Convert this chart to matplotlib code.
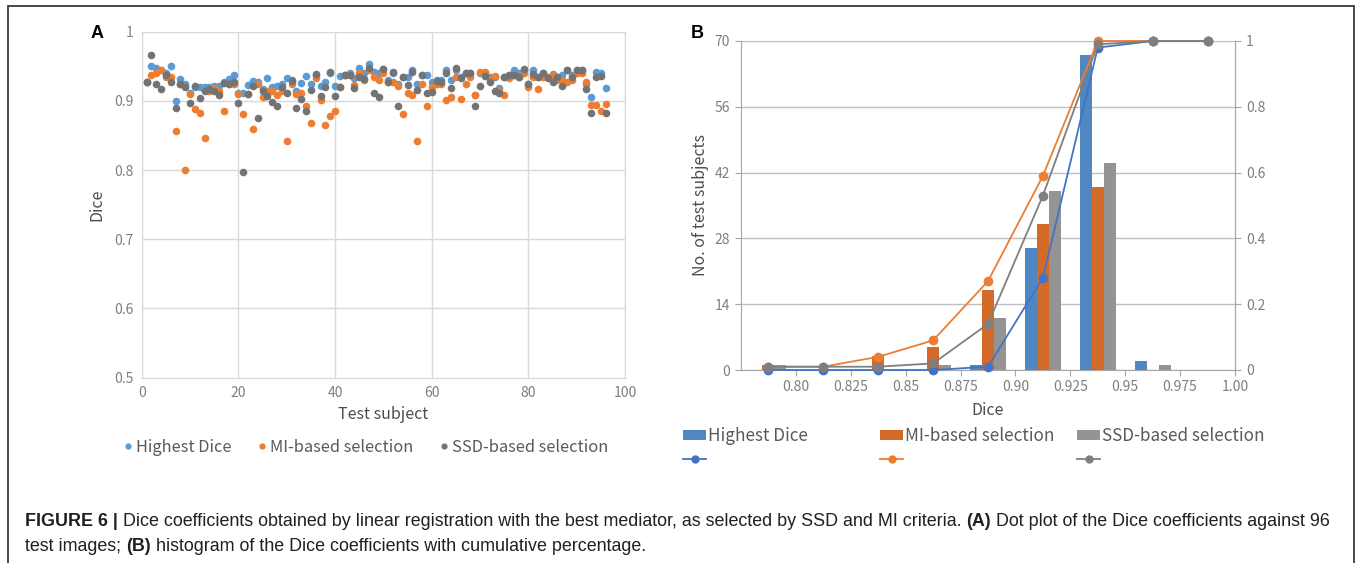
import matplotlib
matplotlib.use('Agg')
import matplotlib.pyplot as plt
from matplotlib.patches import Rectangle, Patch
from matplotlib.lines import Line2D

# ---------------- data ----------------
subjects = list(range(1, 97))
highest_dice = [0.927, 0.950, 0.947, 0.945, 0.940, 0.950, 0.900, 0.931, 0.925, 0.912,
                0.920, 0.920, 0.920, 0.920, 0.922, 0.922, 0.928, 0.932, 0.938, 0.912,
                0.911, 0.923, 0.929, 0.928, 0.917, 0.933, 0.920, 0.922, 0.925, 0.933,
                0.930, 0.915, 0.926, 0.936, 0.925, 0.938, 0.921, 0.927, 0.940, 0.921,
                0.936, 0.937, 0.940, 0.933, 0.947, 0.940, 0.953, 0.942, 0.940, 0.946,
                0.930, 0.940, 0.925, 0.935, 0.934, 0.945, 0.924, 0.937, 0.937, 0.928,
                0.930, 0.930, 0.944, 0.930, 0.945, 0.935, 0.940, 0.940, 0.908, 0.940,
                0.940, 0.935, 0.935, 0.919, 0.935, 0.938, 0.945, 0.940, 0.945, 0.925,
                0.944, 0.935, 0.940, 0.935, 0.939, 0.935, 0.937, 0.944, 0.938, 0.944,
                0.944, 0.925, 0.905, 0.942, 0.940, 0.918]
mi_based = [0.927, 0.938, 0.940, 0.944, 0.935, 0.935, 0.857, 0.925, 0.800, 0.910,
            0.888, 0.883, 0.847, 0.915, 0.918, 0.915, 0.885, 0.925, 0.925, 0.910,
            0.881, 0.910, 0.860, 0.925, 0.905, 0.915, 0.915, 0.908, 0.915, 0.842,
            0.925, 0.910, 0.911, 0.892, 0.868, 0.933, 0.902, 0.865, 0.878, 0.885,
            0.920, 0.937, 0.937, 0.923, 0.940, 0.930, 0.945, 0.934, 0.930, 0.940,
            0.927, 0.927, 0.921, 0.881, 0.912, 0.909, 0.842, 0.925, 0.892, 0.920,
            0.925, 0.925, 0.901, 0.905, 0.935, 0.903, 0.925, 0.934, 0.908, 0.942,
            0.942, 0.930, 0.936, 0.915, 0.909, 0.933, 0.937, 0.934, 0.940, 0.920,
            0.935, 0.917, 0.935, 0.935, 0.937, 0.930, 0.930, 0.927, 0.930, 0.940,
            0.940, 0.927, 0.894, 0.894, 0.885, 0.896]
ssd_based = [0.927, 0.967, 0.924, 0.917, 0.937, 0.928, 0.890, 0.925, 0.920, 0.897,
             0.922, 0.904, 0.914, 0.917, 0.915, 0.909, 0.926, 0.925, 0.927, 0.897,
             0.797, 0.910, 0.921, 0.875, 0.914, 0.907, 0.899, 0.892, 0.920, 0.911,
             0.929, 0.890, 0.903, 0.885, 0.916, 0.939, 0.907, 0.920, 0.942, 0.907,
             0.920, 0.937, 0.937, 0.919, 0.935, 0.931, 0.948, 0.911, 0.906, 0.946,
             0.927, 0.942, 0.892, 0.935, 0.923, 0.942, 0.916, 0.937, 0.911, 0.913,
             0.929, 0.927, 0.941, 0.919, 0.947, 0.933, 0.941, 0.941, 0.892, 0.922,
             0.936, 0.927, 0.915, 0.912, 0.934, 0.938, 0.938, 0.934, 0.946, 0.924,
             0.939, 0.934, 0.941, 0.933, 0.928, 0.935, 0.922, 0.944, 0.934, 0.944,
             0.944, 0.917, 0.883, 0.935, 0.936, 0.883]

bin_labels = ['0.80', '0.825', '0.85', '0.875', '0.90', '0.925', '0.95', '0.975', '1.00']
hist_highest = [0, 0, 0, 0, 1, 26, 67, 2, 0]
hist_mi = [1, 0, 3, 5, 17, 31, 39, 0, 0]
hist_ssd = [1, 0, 0, 1, 11, 38, 44, 1, 0]
cum_highest = [0.0, 0.0, 0.0, 0.0, 0.01, 0.28, 0.98, 1.0, 1.0]
cum_mi = [0.01, 0.01, 0.04, 0.09, 0.27, 0.59, 1.0, 1.0, 1.0]
cum_ssd = [0.01, 0.01, 0.01, 0.02, 0.14, 0.53, 0.99, 1.0, 1.0]

series_names = ['Highest Dice', 'MI-based selection', 'SSD-based selection']

# ---------------- style ----------------
CJK = ['Noto Sans CJK SC', 'DejaVu Sans']
plt.rcParams['font.family'] = CJK
W, H = 1360, 563
fig = plt.figure(figsize=(W / 100, H / 100), dpi=100)

sc_cols = ['#5B9BD5', '#ED7D31', '#737373']
bar_cols = ['#4E87C1', '#D36A28', '#949494']
line_cols = ['#4472C4', '#ED7D31', '#7F7F7F']
tick_col = '#7F7F7F'
lab_col = '#595959'

def fx(px):
    return px / W

def fy(py):
    return 1 - py / H

# outer frame
fig.add_artist(Rectangle((fx(8), fy(600)), fx(1354) - fx(8), fy(6) - fy(600),
                         transform=fig.transFigure, fill=False,
                         edgecolor='#3a3a3a', linewidth=1.3, clip_on=False))

# ---------------- panel A ----------------
axA = fig.add_axes([fx(141.7), fy(377.7), fx(625) - fx(141.7), fy(31.7) - fy(377.7)])
for vals, c in zip([highest_dice, mi_based, ssd_based], sc_cols):
    axA.scatter(subjects, vals, s=30, color=c, linewidths=0, zorder=3)
axA.set_xlim(0, 100)
axA.set_ylim(0.5, 1.0)
axA.set_xticks([0, 20, 40, 60, 80, 100])
axA.set_yticks([0.5, 0.6, 0.7, 0.8, 0.9, 1.0])
axA.set_yticklabels(['0.5', '0.6', '0.7', '0.8', '0.9', '1'])
axA.grid(True, color='#D9D9D9', linewidth=1.0, zorder=0)
axA.set_axisbelow(True)
for sp in axA.spines.values():
    sp.set_color('#D9D9D9')
axA.tick_params(length=0, colors=tick_col, labelsize=10, pad=6)
axA.set_xlabel('Test subject', color='#4D4D4D', fontsize=11.5, labelpad=4)
axA.set_ylabel('Dice', color='#4D4D4D', fontsize=11.5, labelpad=6)
fig.text(fx(97), fy(33), 'A', fontsize=13, fontweight='bold', ha='center', va='center',
         family=['Liberation Sans', 'DejaVu Sans'])

handlesA = [Line2D([], [], linestyle='none', marker='o', markersize=4.5,
                   markerfacecolor=c, markeredgewidth=0) for c in sc_cols]
legA = fig.legend(handlesA, series_names, loc='center', bbox_to_anchor=(fx(366), fy(447)),
                  ncol=3, frameon=False, fontsize=11.8, handlelength=0.5, handletextpad=0.25,
                  columnspacing=1.6, borderpad=0)
for t in legA.get_texts():
    t.set_color(lab_col)

# ---------------- panel B ----------------
axB = fig.add_axes([fx(741), fy(370), fx(1235) - fx(741), fy(41) - fy(370)])
centers = [k + 0.5 for k in range(len(bin_labels))]
bw = 0.218
for j, (h, c) in enumerate(zip([hist_highest, hist_mi, hist_ssd], bar_cols)):
    axB.bar([x + (j - 1) * bw for x in centers], h, width=bw, color=c, zorder=2)
axB.set_xlim(0, len(bin_labels))
axB.set_ylim(0, 70)
axB.set_yticks([0, 14, 28, 42, 56, 70])
axB.set_xticks([k + 1 for k in range(len(bin_labels))])
axB.set_xticklabels(bin_labels)
axB.yaxis.grid(True, color='#BFBFBF', linewidth=1.0, zorder=0)
axB.set_axisbelow(True)
for s in ['left', 'bottom', 'right']:
    axB.spines[s].set_color('#A6A6A6')
axB.spines['top'].set_visible(False)
axB.tick_params(axis='x', length=4, color='#A6A6A6', colors=tick_col, labelsize=10, pad=3)
axB.tick_params(axis='y', length=4, color='#A6A6A6', colors=tick_col, labelsize=10, pad=4)
axB.set_xlabel('Dice', color='#4D4D4D', fontsize=11.5, labelpad=6)
axB.set_ylabel('No. of test subjects', color='#4D4D4D', fontsize=11.5, labelpad=4)

axB2 = axB.twinx()
for cum, c in zip([cum_highest, cum_mi, cum_ssd], line_cols):
    axB2.plot(centers, cum, color=c, linewidth=1.3, marker='o', markersize=7,
              markeredgewidth=0, zorder=3, clip_on=False)
axB2.set_ylim(0, 1)
axB2.set_yticks([0, 0.2, 0.4, 0.6, 0.8, 1.0])
axB2.set_yticklabels(['0', '0.2', '0.4', '0.6', '0.8', '1'])
for s in ['left', 'bottom', 'top']:
    axB2.spines[s].set_visible(False)
axB2.spines['right'].set_color('#A6A6A6')
axB2.tick_params(axis='y', length=4, color='#A6A6A6', colors=tick_col, labelsize=10, pad=4)
fig.text(fx(697), fy(33), 'B', fontsize=13, fontweight='bold', ha='center', va='center',
         family=['Liberation Sans', 'DejaVu Sans'])

for name, bc, lc, xp in zip(series_names, bar_cols, line_cols, [683, 880, 1077]):
    hb = Patch(facecolor=bc, edgecolor='none')
    hl = Line2D([], [], color=lc, linewidth=1.3, marker='o', markersize=6, markeredgewidth=0)
    lg = fig.legend([hb, hl], [name, ''], loc='upper left',
                    bbox_to_anchor=(fx(xp), fy(427)), frameon=False, fontsize=12.3,
                    handlelength=1.35, handleheight=0.55, handletextpad=0.12, borderpad=0,
                    borderaxespad=0, labelspacing=0.3)
    for t in lg.get_texts():
        t.set_color(lab_col)

# ---------------- caption ----------------
cap_family = ['Liberation Sans', 'DejaVu Sans']
line1 = [('FIGURE 6 |', 'bold'),
         (' Dice coefficients obtained by linear registration with the best mediator, as selected by SSD and MI criteria. ', 'normal'),
         ('(A)', 'bold'),
         (' Dot plot of the Dice coefficients against 96', 'normal')]
line2 = [('test images; ', 'normal'), ('(B)', 'bold'),
         (' histogram of the Dice coefficients with cumulative percentage.', 'normal')]

renderer = fig.canvas.get_renderer()

def draw_line(pieces, x0, y, size, color='#231F20'):
    x = x0
    for txt, wt in pieces:
        t = fig.text(fx(x), fy(y), txt, fontsize=size, fontweight=wt, family=cap_family,
                     color=color, ha='left', va='baseline')
        bb = t.get_window_extent(renderer=renderer)
        x += bb.width
    return x

size = 10.0
tmp = [fig.text(0, 0, p[0], fontsize=size, fontweight=p[1], family=cap_family) for p in line1]
wsum = sum(t.get_window_extent(renderer=renderer).width for t in tmp)
for t in tmp:
    t.remove()
size = size * (1335 - 25) / wsum
draw_line(line1, 25, 526, size)
draw_line(line2, 25, 551, size)

fig.savefig('out.png', dpi=100)
